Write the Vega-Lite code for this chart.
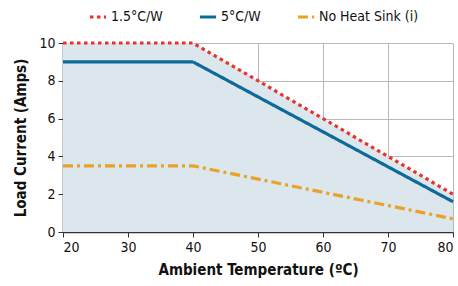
{
  "$schema": "https://vega.github.io/schema/vega-lite/v6.json",
  "width": 390,
  "height": 189,
  "padding": {"left": 13, "top": 7, "right": 5, "bottom": 5},
  "background": "white",
  "config": {
    "font": "DejaVu Sans Condensed, Roboto, sans-serif",
    "view": {"stroke": null},
    "axis": {
      "labelFont": "DejaVu Sans Condensed, Roboto, sans-serif",
      "titleFont": "DejaVu Sans Condensed, Roboto, sans-serif",
      "labelFontSize": 14,
      "titleFontSize": 15,
      "titleFontWeight": "bold",
      "labelColor": "#111",
      "titleColor": "#111",
      "gridColor": "#b8b8b8",
      "gridWidth": 1,
      "domainColor": "#333",
      "domainWidth": 1.5,
      "tickColor": "#333",
      "tickSize": 5
    },
    "legend": {
      "labelFont": "DejaVu Sans Condensed, Roboto, sans-serif",
      "labelFontSize": 14,
      "labelColor": "#111"
    }
  },
  "data": {
    "values": [
      {"series": "1.5°C/W", "temp": 20, "current": 10},
      {"series": "1.5°C/W", "temp": 40, "current": 10},
      {"series": "1.5°C/W", "temp": 80, "current": 2},
      {"series": "5°C/W", "temp": 20, "current": 9},
      {"series": "5°C/W", "temp": 40, "current": 9},
      {"series": "5°C/W", "temp": 80, "current": 1.6},
      {"series": "No Heat Sink (i)", "temp": 20, "current": 3.5},
      {"series": "No Heat Sink (i)", "temp": 40, "current": 3.5},
      {"series": "No Heat Sink (i)", "temp": 80, "current": 0.7}
    ]
  },
  "encoding": {
    "x": {
      "field": "temp",
      "type": "quantitative",
      "scale": {"domain": [20, 80], "nice": false, "zero": false},
      "axis": {"values": [20, 30, 40, 50, 60, 70, 80], "title": "Ambient Temperature (ºC)", "titlePadding": 8, "labelPadding": 3}
    },
    "y": {
      "field": "current",
      "type": "quantitative",
      "scale": {"domain": [0, 10], "nice": false},
      "axis": {"values": [0, 2, 4, 6, 8, 10], "title": "Load Current (Amps)", "titlePadding": 10, "labelPadding": 3}
    }
  },
  "layer": [
    {
      "transform": [{"filter": "datum.series === '1.5°C/W'"}],
      "mark": {"type": "area", "color": "#dbe7ed", "opacity": 1}
    },
    {
      "mark": {"type": "line", "strokeWidth": 3.2},
      "encoding": {
        "color": {
          "field": "series",
          "type": "nominal",
          "scale": {"domain": ["1.5°C/W", "5°C/W", "No Heat Sink (i)"], "range": ["#e8322d", "#0e6a99", "#e9a227"]},
          "legend": {"orient": "none", "legendX": 25, "legendY": -36, "direction": "horizontal", "title": null, "symbolType": "stroke", "symbolSize": 260, "symbolStrokeWidth": 3.2, "columnPadding": 30, "labelOffset": 3}
        },
        "strokeDash": {
          "field": "series",
          "type": "nominal",
          "scale": {"domain": ["1.5°C/W", "5°C/W", "No Heat Sink (i)"], "range": [[3.5, 3.5], [1, 0], [10, 4, 3, 4]]},
          "legend": null
        }
      }
    }
  ]
}
